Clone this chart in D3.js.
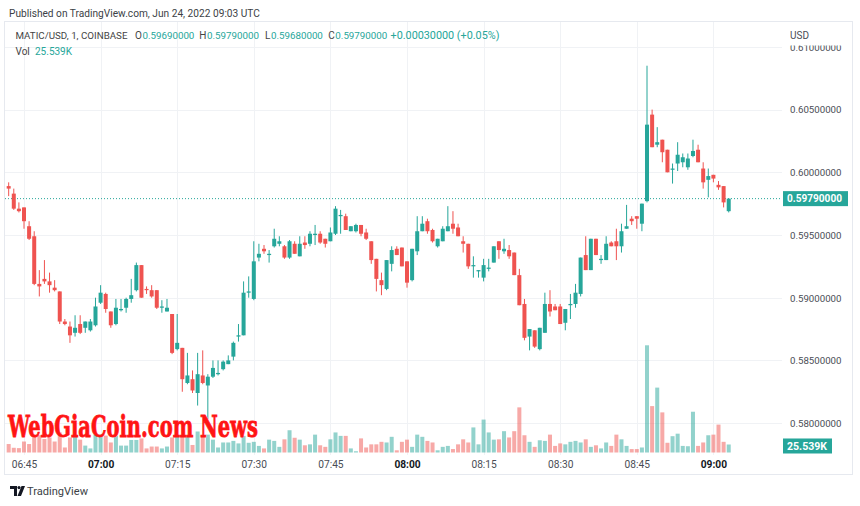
<!DOCTYPE html>
<html><head><meta charset="utf-8">
<script src="https://cdn.jsdelivr.net/npm/d3@7"></script>
<style>
html,body{margin:0;padding:0;background:#fff;}
svg{display:block;font-family:Roboto,"Liberation Sans",sans-serif;}
</style></head><body>
<svg id="chart" width="860" height="506"></svg>
<script>
// ---------- DATA ----------
const startTime = "2022-06-24T06:42:00Z"; // first 1-minute candle
const open = [
0.5989,0.5983,0.5971,0.5972,0.5957,0.5949,0.5911,0.5915,0.5913,0.5908,
0.5905,0.5881,0.5877,0.5872,0.5879,0.5876,0.5874,0.5878,0.5896,0.5903,
0.5889,0.5879,0.5890,0.5892,0.5899,0.5906,0.5926,0.5907,0.5906,0.5906,
0.5892,0.5889,0.5887,0.5859,0.5860,0.5832,0.5835,0.5824,0.5838,0.5830,
0.5837,0.5839,0.5843,0.5847,0.5853,0.5869,0.5870,0.5904,0.5899,0.5932,
0.5939,0.5934,0.5941,0.5943,0.5941,0.5932,0.5943,0.5933,0.5944,0.5943,
0.5950,0.5951,0.5947,0.5945,0.5951,0.5965,0.5965,0.5953,0.5953,0.5958,
0.5952,0.5945,0.5931,0.5914,0.5907,0.5927,0.5939,0.5940,0.5929,0.5914,
0.5937,0.5953,0.5961,0.5954,0.5941,0.5945,0.5953,0.5959,0.5956,0.5945,
0.5943,0.5925,0.5921,0.5916,0.5923,0.5928,0.5945,0.5937,0.5938,0.5936,
0.5918,0.5895,0.5869,0.5874,0.5859,0.5872,0.5895,0.5893,0.5893,0.5880,
0.5894,0.5895,0.5903,0.5934,0.5922,0.5947,0.5930,0.5930,0.5944,0.5945,
0.5941,0.5955,0.5963,0.5965,0.5959,0.5977,0.6046,0.6022,0.6026,0.6018,
0.6002,0.6007,0.6008,0.6004,0.6013,0.6018,0.6003,0.5994,0.5998,0.5990,
0.5989,0.5969];
const high = [
0.5992,0.5987,0.5976,0.5972,0.5961,0.5953,0.5922,0.5930,0.5920,0.5914,
0.5905,0.5883,0.5881,0.5886,0.5886,0.5881,0.5883,0.5900,0.5910,0.5904,
0.5889,0.5899,0.5899,0.5900,0.5915,0.5928,0.5926,0.5909,0.5910,0.5906,
0.5898,0.5899,0.5887,0.5887,0.5860,0.5856,0.5842,0.5856,0.5858,0.5839,
0.5850,0.5850,0.5850,0.5854,0.5865,0.5879,0.5913,0.5917,0.5945,0.5943,
0.5942,0.5938,0.5955,0.5949,0.5942,0.5946,0.5945,0.5949,0.5949,0.5953,
0.5958,0.5953,0.5947,0.5956,0.5973,0.5970,0.5967,0.5957,0.5959,0.5958,
0.5955,0.5945,0.5931,0.5920,0.5930,0.5941,0.5941,0.5940,0.5929,0.5939,
0.5965,0.5965,0.5963,0.5955,0.5947,0.5957,0.5973,0.5969,0.5959,0.5949,
0.5943,0.5933,0.5922,0.5931,0.5931,0.5941,0.5945,0.5947,0.5942,0.5936,
0.5923,0.5899,0.5875,0.5874,0.5876,0.5904,0.5906,0.5895,0.5895,0.5891,
0.5903,0.5911,0.5932,0.5949,0.5947,0.5947,0.5934,0.5949,0.5945,0.5955,
0.5959,0.5974,0.5965,0.5965,0.5975,0.6085,0.6050,0.6036,0.6026,0.6018,
0.6007,0.6024,0.6015,0.6015,0.6026,0.6022,0.6008,0.6003,0.5998,0.5993,
0.5989,0.5979];
const low = [
0.5981,0.5970,0.5968,0.5955,0.5946,0.5910,0.5901,0.5911,0.5904,0.5905,
0.5879,0.5878,0.5864,0.5869,0.5871,0.5872,0.5873,0.5877,0.5895,0.5888,
0.5876,0.5878,0.5889,0.5888,0.5896,0.5905,0.5900,0.5903,0.5900,0.5891,
0.5888,0.5889,0.5855,0.5858,0.5825,0.5831,0.5824,0.5814,0.5831,0.5803,
0.5836,0.5838,0.5842,0.5847,0.5850,0.5865,0.5870,0.5900,0.5898,0.5929,
0.5935,0.5928,0.5940,0.5941,0.5931,0.5931,0.5935,0.5933,0.5939,0.5941,
0.5942,0.5943,0.5940,0.5945,0.5950,0.5951,0.5954,0.5953,0.5952,0.5949,
0.5946,0.5927,0.5905,0.5902,0.5906,0.5921,0.5934,0.5925,0.5908,0.5913,
0.5934,0.5953,0.5951,0.5944,0.5940,0.5945,0.5953,0.5951,0.5949,0.5936,
0.5923,0.5916,0.5916,0.5913,0.5921,0.5928,0.5931,0.5935,0.5931,0.5918,
0.5894,0.5866,0.5858,0.5860,0.5858,0.5872,0.5885,0.5890,0.5879,0.5874,
0.5883,0.5892,0.5901,0.5922,0.5922,0.5934,0.5927,0.5930,0.5941,0.5930,
0.5936,0.5955,0.5958,0.5955,0.5953,0.5976,0.6020,0.6020,0.6008,0.6000,
0.5991,0.6001,0.6004,0.6002,0.6012,0.6008,0.5987,0.5980,0.5992,0.5986,
0.5972,0.5968];
const close = [
0.5987,0.5971,0.5969,0.5961,0.5947,0.5911,0.5909,0.5913,0.5910,0.5906,
0.5881,0.5879,0.5870,0.5876,0.5872,0.5881,0.5881,0.5893,0.5904,0.5891,
0.5878,0.5892,0.5891,0.5899,0.5902,0.5926,0.5900,0.5906,0.5901,0.5892,
0.5893,0.5892,0.5856,0.5864,0.5835,0.5838,0.5826,0.5839,0.5832,0.5837,
0.5844,0.5840,0.5849,0.5850,0.5864,0.5870,0.5904,0.5905,0.5929,0.5935,
0.5937,0.5935,0.5947,0.5945,0.5932,0.5945,0.5935,0.5943,0.5942,0.5951,
0.5951,0.5944,0.5943,0.5952,0.5971,0.5966,0.5954,0.5957,0.5958,0.5951,
0.5947,0.5930,0.5915,0.5910,0.5930,0.5938,0.5934,0.5925,0.5912,0.5939,
0.5953,0.5959,0.5953,0.5945,0.5947,0.5955,0.5957,0.5955,0.5949,0.5943,
0.5925,0.5926,0.5922,0.5926,0.5924,0.5941,0.5938,0.5939,0.5933,0.5918,
0.5894,0.5868,0.5875,0.5861,0.5876,0.5895,0.5889,0.5890,0.5879,0.5891,
0.5895,0.5904,0.5932,0.5922,0.5947,0.5934,0.5931,0.5943,0.5941,0.5941,
0.5953,0.5957,0.5961,0.5963,0.5975,0.6038,0.6020,0.6024,0.6016,0.6000,
0.6003,0.6014,0.6012,0.6011,0.6017,0.6008,0.5992,0.5997,0.5995,0.5988,
0.5976,0.5979];
const volumeK = [
27,15,14,35,27,57,55,43,48,35,
64,16,48,57,41,22,13,57,57,54,
32,54,22,22,40,40,45,13,19,19,
13,19,48,54,54,51,24,67,54,57,
41,16,32,32,37,29,53,31,34,21,
13,41,37,18,42,71,47,41,23,26,
57,23,18,42,64,53,53,13,4,45,
16,26,26,34,32,50,7,34,41,18,
57,50,37,32,7,18,21,11,26,42,
32,80,26,105,64,41,42,68,48,68,
144,55,34,18,39,37,57,21,29,26,
34,37,32,42,18,23,13,32,21,57,
42,21,11,11,16,342,148,207,128,31,
52,60,21,20,130,21,32,55,57,89,
34,25.539];
const priceTicks = [0.580,0.585,0.590,0.595,0.600,0.605,0.610];
const timeTickLabels = ["06:45","07:00","07:15","07:30","07:45","08:00","08:15","08:30","08:45","09:00"];
const lastPrice = 0.5979;
const lastVolLabel = "25.539K";
const header = "Published on TradingView.com, Jun 24, 2022 09:03 UTC";
const symbolText = "MATIC/USD, 1, COINBASE";
const ohlcLabels = ["O","H","L","C"];
const ohlcValues = ["0.59690000","0.59790000","0.59680000","0.59790000"];
const changeText = "+0.00030000 (+0.05%)";

// ---------- SETUP ----------
const UP = "#26a69a", DOWN = "#ef5350";
const UPV = "rgba(38,166,154,0.5)", DOWNV = "rgba(239,83,80,0.5)";
const svg = d3.select("#chart");
const day = "2022-06-24T";
const t0 = new Date(startTime);
const times = open.map((_, i) => new Date(t0.getTime() + i * 60000));
const tickDates = timeTickLabels.map(s => new Date(day + s + ":00Z"));

const plotL = 5, plotR = 782, plotT = 22, plotB = 455;
const x = d3.scaleUtc().domain([tickDates[0], tickDates[tickDates.length-1]]).range([24, 713.4]);
const y = d3.scaleLinear().domain([0.580, 0.610]).range([423.1, 46.9]);
const yv = d3.scaleLinear().domain([0, 350]).range([452.5, 452.5 - 350/3.19]);

function fit(sel, target){
  const w = sel.node().getComputedTextLength();
  const fs = parseFloat(sel.attr("font-size"));
  sel.attr("font-size", (fs * target / w).toFixed(2));
  return sel;
}

// frame
svg.append("rect").attr("x",4.5).attr("y",21.5).attr("width",848).attr("height",453)
  .attr("fill","none").attr("stroke","#e6e9ef");

// grid
const grid = svg.append("g");
grid.selectAll("line.h").data(priceTicks).join("line")
  .attr("x1",plotL).attr("x2",plotR)
  .attr("y1",d=>Math.round(y(d))+0.5).attr("y2",d=>Math.round(y(d))+0.5)
  .attr("stroke","#f0f2f5");
grid.selectAll("line.v").data(tickDates).join("line")
  .attr("y1",plotT).attr("y2",plotB)
  .attr("x1",d=>Math.round(x(d))+0.5).attr("x2",d=>Math.round(x(d))+0.5)
  .attr("stroke","#f0f2f5");

// volume
svg.append("g").selectAll("rect").data(volumeK).join("rect")
  .attr("x",(d,i)=>x(times[i])-2)
  .attr("width",4)
  .attr("y",d=>yv(d))
  .attr("height",d=>yv(0)-yv(d))
  .attr("fill",(d,i)=>close[i]>=open[i]?UPV:DOWNV);

// last price dotted line
svg.append("line").attr("x1",plotL).attr("x2",plotR)
  .attr("y1",y(lastPrice)).attr("y2",y(lastPrice))
  .attr("stroke",UP).attr("stroke-dasharray","1,2").attr("stroke-width",1);

// candles
const cg = svg.append("g");
open.forEach((o,i)=>{
  const c = close[i], up = c>=o, col = up?UP:DOWN, cx = x(times[i]);
  cg.append("line").attr("x1",cx).attr("x2",cx)
    .attr("y1",y(high[i])).attr("y2",y(low[i]))
    .attr("stroke",col).attr("stroke-width",1);
  const top = Math.min(y(o),y(c)), h = Math.max(1.2, Math.abs(y(o)-y(c)));
  cg.append("rect").attr("x",cx-2).attr("width",4)
    .attr("y",top).attr("height",h).attr("fill",col);
});

// price axis
svg.append("defs").append("clipPath").attr("id","axclip")
  .append("rect").attr("x",783).attr("y",45.5).attr("width",77).attr("height",420);
const ya = d3.axisRight(y).tickValues(priceTicks).tickFormat(d3.format(".8f")).tickSize(0).tickPadding(0);
const yaOuter = svg.append("g").attr("clip-path","url(#axclip)");
const yag = yaOuter.append("g").attr("transform","translate(790,0)").call(ya);
yag.select(".domain").remove();
yag.selectAll("text").attr("font-size",10).attr("fill","#4a4d55").attr("font-family","Roboto, sans-serif")
  .attr("dy","0.35em").attr("x",0);
yag.selectAll("text").each(function(){ fit(d3.select(this), 51.5); });
svg.append("text").attr("x",790).attr("y",39).attr("font-size",10).attr("fill","#4a4d55").text("USD");

// last price label
const lp = svg.append("g");
lp.append("rect").attr("x",783).attr("y",y(lastPrice)-7.5).attr("width",65).attr("height",15).attr("fill",UP);
fit(lp.append("text").attr("x",787).attr("y",y(lastPrice)).attr("dy","0.35em")
  .attr("font-size",10).attr("font-weight","bold").attr("fill","#fff").text(d3.format(".8f")(lastPrice)), 55);

// volume label
const vl = svg.append("g"), vy = yv(volumeK[volumeK.length-1]) + 1.5;
vl.append("rect").attr("x",783).attr("y",vy-7.5).attr("width",49).attr("height",15).attr("fill",UP);
fit(vl.append("text").attr("x",787).attr("y",vy).attr("dy","0.35em")
  .attr("font-size",10).attr("font-weight","bold").attr("fill","#fff").text(lastVolLabel), 40);

// time axis
const xa = d3.axisBottom(x).tickValues(tickDates).tickFormat(d3.utcFormat("%H:%M")).tickSize(0).tickPadding(0);
const xag = svg.append("g").attr("transform","translate(0,464)").call(xa);
xag.select(".domain").remove();
xag.selectAll("text").attr("dy","0.35em").attr("font-family","Roboto, sans-serif")
  .attr("font-size",10.2)
  .attr("fill",d=>d.getUTCMinutes()===0?"#131722":"#4a4d55")
  .attr("font-weight",d=>d.getUTCMinutes()===0?"bold":"normal");

// header
fit(svg.append("text").attr("x",9).attr("y",17).attr("font-size",11).attr("fill","#3c3f46").text(header), 251);

// legend line
const lg = svg.append("g");
fit(lg.append("text").attr("x",15.5).attr("y",39).attr("font-size",10).attr("fill","#444").text(symbolText), 112);
const posO = [135, 199.3, 265, 328.3];
ohlcLabels.forEach((l,k)=>{
  const lab = lg.append("text").attr("x",posO[k]).attr("y",39).attr("font-size",10).attr("fill","#444").text(l);
  const lw = lab.node().getComputedTextLength();
  fit(lg.append("text").attr("x",posO[k]+lw+0.5).attr("y",39).attr("font-size",10).attr("fill",UP).text(ohlcValues[k]), 52);
});
fit(lg.append("text").attr("x",390.5).attr("y",39).attr("font-size",10).attr("fill",UP).text(changeText), 109);
lg.append("text").attr("x",15.5).attr("y",55).attr("font-size",10).attr("fill","#444").text("Vol");
fit(lg.append("text").attr("x",35).attr("y",55).attr("font-size",10).attr("fill",UP).text(lastVolLabel), 37);

// footer logo
const ft = svg.append("g").attr("transform","translate(10,486)");
ft.append("path").attr("d","M0,0 H7 V10 H4 V3 H0 Z").attr("fill","#131722");
ft.append("circle").attr("cx",9).attr("cy",1.6).attr("r",1.6).attr("fill","#131722");
ft.append("path").attr("d","M11.5,0 H15 L11,10 H7.5 Z").attr("fill","#131722");
fit(svg.append("text").attr("x",27).attr("y",495).attr("font-size",11).attr("fill","#3c3f46").text("TradingView"), 61);

// watermark
svg.append("text").attr("x",8).attr("y",436.5).attr("font-size",29)
  .attr("font-family","'DejaVu Serif', serif").attr("font-weight","bold")
  .attr("fill","#ff1414").attr("stroke","#ff1414").attr("stroke-width",0.8)
  .attr("textLength",250).attr("lengthAdjust","spacingAndGlyphs")
  .text("WebGiaCoin.com News");
</script>
</body></html>
